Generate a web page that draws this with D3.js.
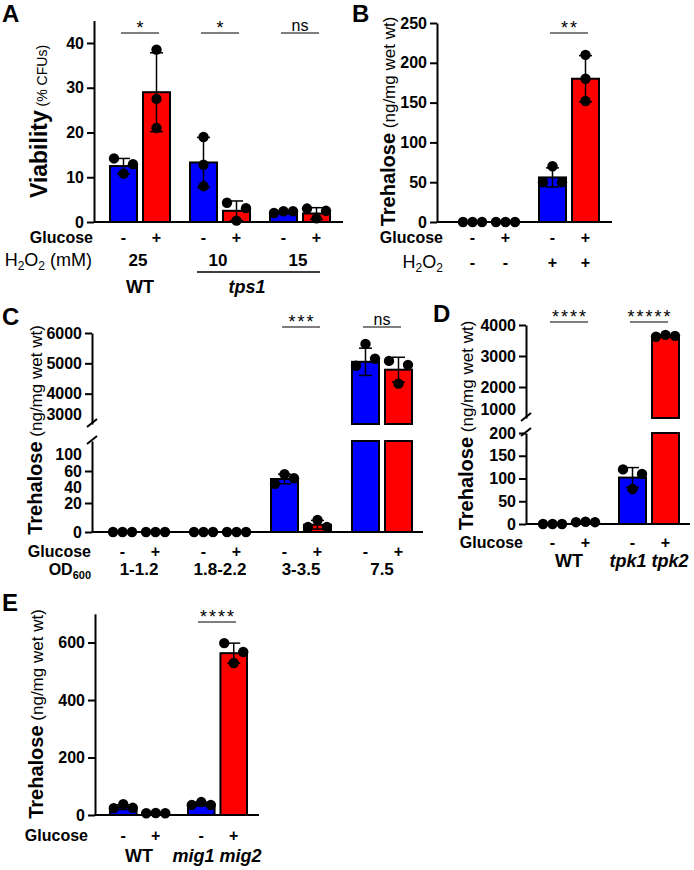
<!DOCTYPE html>
<html>
<head>
<meta charset="utf-8">
<script src="https://cdn.jsdelivr.net/npm/d3@7"></script>
<style>
  body { margin: 0; background: #fff; }
  svg { font-family: "Liberation Sans", Arial, sans-serif; }
</style>
</head>
<body>
<svg id="fig" width="694" height="870"></svg>
<script>
const signs = ["-", "+"];
const blue = "#0000ff";
const red = "#ff0000";

// Panel A: viability
const aGroups = ["WT 25", "tps1 10", "tps1 15"];
const aMeans = [[12.5, 29.0], [13.3, 2.5], [2.1, 1.9]];
const aSD = [[1.7, 8.8], [5.6, 2.2], [0.3, 1.3]];
const aPoints = [
  [[14.2, 10.8, 12.9], [38.5, 27.5, 21.0]],
  [[19.0, 12.8, 8.0], [4.3, 0.3, 3.1]],
  [[2.0, 2.4, 2.4], [3.0, 0.8, 2.5]],
];
const aTicks = [0, 10, 20, 30, 40];
const aSig = ["*", "*", "ns"];
const aDose = ["25", "10", "15"];

// Panel B: trehalose +/- H2O2
const bGroups = ["no H2O2", "H2O2"];
const bMeans = [[0, 0], [56, 180]];
const bSD = [[0, 0], [12, 29]];
const bPoints = [
  [[0, 0, 0], [0, 0, 0]],
  [[50, 70, 50], [210, 180, 152]],
];
const bTicks = [0, 50, 100, 150, 200, 250];
const bH2O2 = ["-", "+"];
const bSig = ["", "**"];

// Panel C: trehalose vs OD600
const cGroups = ["1-1.2", "1.8-2.2", "3-3.5", "7.5"];
const cMeans = [[0, 0], [0, 0], [50, 5], [5050, 4790]];
const cSD = [[0, 0], [0, 0], [6, 3], [450, 410]];
const cPoints = [
  [[0, 0, 0], [0, 0, 0]],
  [[0, 0, 0], [0, 0, 0]],
  [[44, 56, 51], [3.4, 8.3, 3.4]],
  [[4920, 5640, 5150], [5080, 4330, 4950]],
];
const cLowTicks = [0, 20, 40, 60, 100];
const cHighTicks = [3000, 4000, 5000, 6000];
const cSig = ["", "", "***", "ns"];

// Panel D: tpk1 tpk2
const dGroups = ["WT", "tpk1 tpk2"];
const dMeans = [[0, 4], [102, 3650]];
const dSD = [[0, 0], [22, 30]];
const dPoints = [
  [[0, 0, 0], [4, 5, 4]],
  [[120, 77, 110], [3620, 3680, 3650]],
];
const dLowTicks = [0, 50, 100, 150, 200];
const dHighTicks = [1000, 2000, 3000, 4000];
const dSig = ["****", "*****"];

// Panel E: mig1 mig2
const eGroups = ["WT", "mig1 mig2"];
const eMeans = [[27, 6], [38, 563]];
const eSD = [[8, 1], [6, 35]];
const ePoints = [
  [[24, 38, 25], [6, 7, 6]],
  [[35, 45, 35], [598, 529, 567]],
];
const eTicks = [0, 200, 400, 600];
const eSig = ["", "****"];

const svg = d3.select("#fig");
svg.append("rect").attr("width", 694).attr("height", 870).attr("fill", "#fff");

const styleAxis = (g) => {
  g.select(".domain").attr("stroke", "#000").attr("stroke-width", 2);
  g.selectAll(".tick line").attr("stroke", "#000").attr("stroke-width", 2);
  g.selectAll(".tick text")
    .attr("fill", "#000")
    .attr("font-size", 16)
    .attr("font-weight", "bold")
    .attr("font-family", '"Liberation Sans", Arial, sans-serif');
};

const text = (g, x, y, str, size, opts = {}) =>
  g
    .append("text")
    .attr("x", x)
    .attr("y", y)
    .attr("font-size", size)
    .attr("font-weight", opts.weight || "bold")
    .attr("font-style", opts.italic ? "italic" : null)
    .attr("text-anchor", opts.anchor || "middle")
    .text(str);

const drawPanel = (p) => {
  const g = svg.append("g");
  const x0 = d3.scaleBand().domain(p.groups).range(p.xRange);
  const x1 = d3.scaleBand().domain(signs).range(p.inner).paddingInner(6 / 33);
  const yv = (v) => (p.hi && v > p.lowMax ? p.hi(v) : p.lo(v));
  const gc = (gi) => x0(p.groups[gi]) + x0.bandwidth() / 2;
  const cx = (gi, si) => x0(p.groups[gi]) + x1(signs[si]) + x1.bandwidth() / 2;

  const bars = [];
  p.means.forEach((pair, gi) =>
    pair.forEach((m, si) =>
      bars.push({ gi, si, m, sd: p.sd[gi][si], pts: p.points[gi][si] })
    )
  );

  // bars
  bars.forEach((b) => {
    const x = x0(p.groups[b.gi]) + x1(signs[b.si]);
    const segs =
      p.hi && b.m > p.lowMax
        ? [
            [p.lo(0), p.lo(p.lowMax)],
            [p.hi(p.hi.domain()[0]), p.hi(b.m)],
          ]
        : [[p.lo(0), p.lo(b.m)]];
    segs.forEach(([y0, y1]) => {
      if (y0 - y1 < 0.5) return;
      g.append("rect")
        .attr("x", x)
        .attr("y", y1)
        .attr("width", x1.bandwidth())
        .attr("height", y0 - y1)
        .attr("fill", b.si ? red : blue)
        .attr("stroke", "#000")
        .attr("stroke-width", 2);
    });
  });

  // axes
  const axisL = (scale, ticks) =>
    d3.axisLeft(scale).tickValues(ticks).tickSize(7).tickSizeOuter(0).tickPadding(3).tickFormat(d3.format("d"));
  const low = g
    .append("g")
    .attr("transform", `translate(${p.axisX},0)`)
    .call(axisL(p.lo, p.lowTicks))
    .call(styleAxis);
  if (p.lowNoTick) low.selectAll(".tick line").filter((d) => p.lowNoTick.includes(d)).remove();
  if (p.hi) {
    const high = g
      .append("g")
      .attr("transform", `translate(${p.axisX},0)`)
      .call(axisL(p.hi, p.highTicks))
      .call(styleAxis);
    const h0 = p.hi.domain()[0];
    high.selectAll(".tick").filter((d) => d === h0).select("line").remove();
    high.selectAll(".tick").filter((d) => d === h0).select("text").attr("dy", p.hiLabelShift);
    // axis break marks
    [p.hi(h0) - 1, p.lo(p.lowMax) - 1].forEach((yy) => {
      g.append("line")
        .attr("x1", p.axisX - 5)
        .attr("x2", p.axisX + 5)
        .attr("y1", yy + 4)
        .attr("y2", yy - 4)
        .attr("stroke", "#000")
        .attr("stroke-width", 2);
    });
  }
  g.append("line")
    .attr("x1", p.axisX)
    .attr("x2", p.xEnd)
    .attr("y1", p.lo(0))
    .attr("y2", p.lo(0))
    .attr("stroke", "#000")
    .attr("stroke-width", 2);

  // error bars
  bars.forEach((b) => {
    if (!b.sd) return;
    const x = cx(b.gi, b.si);
    const yTop = yv(b.m + b.sd);
    const yBot = yv(b.m - b.sd);
    g.append("line").attr("x1", x).attr("x2", x).attr("y1", yTop).attr("y2", yBot)
      .attr("stroke", "#000").attr("stroke-width", 1.5);
    [yTop, yBot].forEach((yy) =>
      g.append("line").attr("x1", x - 6.5).attr("x2", x + 6.5).attr("y1", yy).attr("y2", yy)
        .attr("stroke", "#000").attr("stroke-width", 1.5)
    );
  });

  // dots
  bars.forEach((b) => {
    const py = b.pts.map(yv);
    const crowded = py.some((a, i) => py.some((c, j) => i < j && Math.abs(a - c) < 10));
    b.pts.forEach((v, i) => {
      g.append("circle")
        .attr("cx", cx(b.gi, b.si) + (crowded ? (i - 1) * 9.5 : 0))
        .attr("cy", yv(v))
        .attr("r", 5.2)
        .attr("fill", "#000");
    });
  });

  // significance
  p.sig.forEach((s, gi) => {
    if (!s) return;
    const c = gc(gi);
    g.append("line").attr("x1", c - 19).attr("x2", c + 19).attr("y1", p.sigY).attr("y2", p.sigY)
      .attr("stroke", "#000").attr("stroke-width", 1.2);
    if (s === "ns") {
      text(g, c, p.sigY - 2, s, 16, { weight: "normal" });
    } else {
      text(g, c + 1, p.sigY + 1, s, 18, { weight: "normal" }).attr("letter-spacing", 2);
    }
  });

  // glucose row
  text(g, p.gluX, p.gluY, "Glucose", 16, { anchor: "end" });
  p.groups.forEach((gr, gi) => signs.forEach((s, si) => text(g, cx(gi, si), p.gluY, s, 16)));

  // y label
  const yl = g
    .append("text")
    .attr("transform", `translate(${p.yLab[0]},${p.yLab[1]}) rotate(-90)`)
    .attr("text-anchor", "middle");
  yl.append("tspan").attr("font-weight", "bold").attr("font-size", p.yLab[2]).text(p.yLab[3]);
  yl.append("tspan").attr("font-size", p.yLab[4]).text(" " + p.yLab[5]);

  // panel letter
  text(g, p.letter[1], p.letter[2], p.letter[0], 24, { anchor: "start" });

  return { g, gc, cx };
};

// ---------- A ----------
const pA = drawPanel({
  groups: aGroups, means: aMeans, sd: aSD, points: aPoints,
  lo: d3.scaleLinear().domain([0, 45]).range([222, 20.6]), lowTicks: aTicks,
  axisX: 94, xRange: [100, 340], inner: [10, 70], xEnd: 343, sigY: 33, sig: aSig,
  gluX: 93, gluY: 243,
  yLab: [47, 121.5, 23, "Viability", 14, "(% CFUs)"],
  letter: ["A", 2, 22],
});
{
  const t = pA.g.append("text").attr("x", 92).attr("y", 266).attr("text-anchor", "end").attr("font-size", 18);
  t.append("tspan").text("H");
  t.append("tspan").attr("font-size", 12).attr("dy", 4).text("2");
  t.append("tspan").attr("dy", -4).text("O");
  t.append("tspan").attr("font-size", 12).attr("dy", 4).text("2");
  t.append("tspan").attr("dy", -4).text(" (mM)");
  aDose.forEach((d, gi) => text(pA.g, pA.gc(gi) - 2, 266, d, 17));
  pA.g.append("line").attr("x1", 197).attr("x2", 320).attr("y1", 272).attr("y2", 272)
    .attr("stroke", "#000").attr("stroke-width", 1.5);
  text(pA.g, pA.gc(0), 293, "WT", 18);
  text(pA.g, 247, 293, "tps1", 18, { italic: true });
}

// ---------- B ----------
const pB = drawPanel({
  groups: bGroups, means: bMeans, sd: bSD, points: bPoints,
  lo: d3.scaleLinear().domain([0, 250]).range([222, 23]), lowTicks: bTicks,
  axisX: 437, xRange: [449, 609], inner: [10, 70], xEnd: 612, sigY: 33, sig: bSig,
  gluX: 443, gluY: 243,
  yLab: [395, 121.5, 20, "Trehalose", 17, "(ng/mg wet wt)"],
  letter: ["B", 352, 22],
});
{
  const t = pB.g.append("text").attr("x", 443).attr("y", 268).attr("text-anchor", "end").attr("font-size", 18);
  t.append("tspan").text("H");
  t.append("tspan").attr("font-size", 12).attr("dy", 4).text("2");
  t.append("tspan").attr("dy", -4).text("O");
  t.append("tspan").attr("font-size", 12).attr("dy", 4).text("2");
  bGroups.forEach((gr, gi) => signs.forEach((s, si) => text(pB.g, pB.cx(gi, si), 268, bH2O2[gi], 16)));
}

// ---------- C ----------
const pC = drawPanel({
  groups: cGroups, means: cMeans, sd: cSD, points: cPoints,
  lo: d3.scaleLinear().domain([0, 20, 40, 60, 100, 130]).range([532, 503, 487, 471, 454, 441]),
  lowTicks: cLowTicks, lowNoTick: [40, 100],
  hi: d3.scaleLinear().domain([3000, 6000]).range([424, 333]), highTicks: cHighTicks, lowMax: 130, hiLabelShift: "-0.3em",
  axisX: 92, xRange: [98.5, 422.5], inner: [10.5, 70.5], xEnd: 423, sigY: 327, sig: cSig,
  gluX: 91, gluY: 557,
  yLab: [42, 430, 20, "Trehalose", 17, "(ng/mg wet wt)"],
  letter: ["C", 2, 325],
});
{
  const t = pC.g.append("text").attr("x", 91).attr("y", 575).attr("text-anchor", "end")
    .attr("font-size", 16).attr("font-weight", "bold");
  t.append("tspan").text("OD");
  t.append("tspan").attr("font-size", 11).attr("dy", 4).text("600");
  cGroups.forEach((gr, gi) => text(pC.g, pC.gc(gi), 575, gr, 17));
}

// ---------- D ----------
const pD = drawPanel({
  groups: dGroups, means: dMeans, sd: dSD, points: dPoints,
  lo: d3.scaleLinear().domain([0, 200]).range([524, 433]), lowTicks: dLowTicks,
  hi: d3.scaleLinear().domain([1000, 4000]).range([418, 325]), highTicks: dHighTicks, lowMax: 200, hiLabelShift: "-0.2em",
  axisX: 526, xRange: [529, 689], inner: [10, 70], xEnd: 690, sigY: 322, sig: dSig,
  gluX: 523, gluY: 548,
  yLab: [473, 425.5, 20, "Trehalose", 17, "(ng/mg wet wt)"],
  letter: ["D", 433, 322],
});
text(pD.g, pD.gc(0), 567, "WT", 18);
text(pD.g, pD.gc(1), 567, "tpk1 tpk2", 18, { italic: true });

// ---------- E ----------
const pE = drawPanel({
  groups: eGroups, means: eMeans, sd: eSD, points: ePoints,
  lo: d3.scaleLinear().domain([0, 700]).range([815, 613.8]), lowTicks: eTicks,
  axisX: 95, xRange: [100, 256], inner: [10, 69], xEnd: 259, sigY: 622, sig: eSig,
  gluX: 88, gluY: 841,
  yLab: [43, 714, 20, "Trehalose", 17, "(ng/mg wet wt)"],
  letter: ["E", 2, 611],
});
text(pE.g, pE.gc(0), 862, "WT", 18);
text(pE.g, pE.gc(1), 862, "mig1 mig2", 18, { italic: true });
</script>
</body>
</html>
